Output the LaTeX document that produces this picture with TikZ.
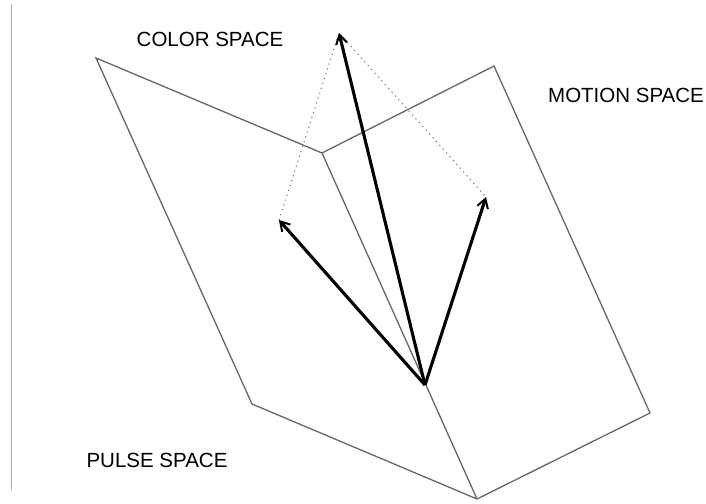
\documentclass[tikz,border=0pt]{standalone}
\usepackage{fontspec}
\setmainfont{Liberation Sans}
\usetikzlibrary{arrows.meta}
\tikzset{
  planeedge/.style={draw=black!60, line width=1.3pt, line join=miter},
  vec/.style={line width=3.1pt, -{Straight Barb[length=9pt,width=11pt,line width=2pt]}},
  proj/.style={draw=black!55, line width=1.1pt, dash pattern=on 1.1pt off 4pt},
  spacelabel/.style={font=\fontsize{20.5}{24}\selectfont, inner sep=0pt}
}
\begin{document}
\begin{tikzpicture}[x=1pt,y=-1pt]
\useasboundingbox (0,0) rectangle (706,503);

% margin rule
\draw[black!30, line width=1pt] (11,4) -- (11,490);

% the two planes
\coordinate (lt) at (96,58);
\coordinate (ridge) at (322,153);
\coordinate (lb) at (252,404);
\coordinate (foot) at (477,499);
\coordinate (rt) at (494,66);
\coordinate (rb) at (650,413);
\draw[planeedge] (ridge) -- (lt) -- (lb) -- (foot);
\draw[planeedge] (ridge) -- (rt) -- (rb) -- (foot);
\draw[planeedge] (ridge) -- (foot);

% vectors
\coordinate (o) at (425,385);
\coordinate (pulse) at (279,220);
\coordinate (motion) at (486,197);
\coordinate (color) at (339,33);
\draw[proj] (pulse) -- (color) -- (motion);
\draw[vec] (o) -- (color);
\draw[vec] (o) -- (pulse);
\draw[vec] (o) -- (motion);

% labels
\node[spacelabel] (colorlbl) at (210,39) {COLOR SPACE};
\node[spacelabel] (motionlbl) at (626,95) {MOTION SPACE};
\node[spacelabel] (pulselbl) at (157,460) {PULSE SPACE};
\end{tikzpicture}
\end{document}
